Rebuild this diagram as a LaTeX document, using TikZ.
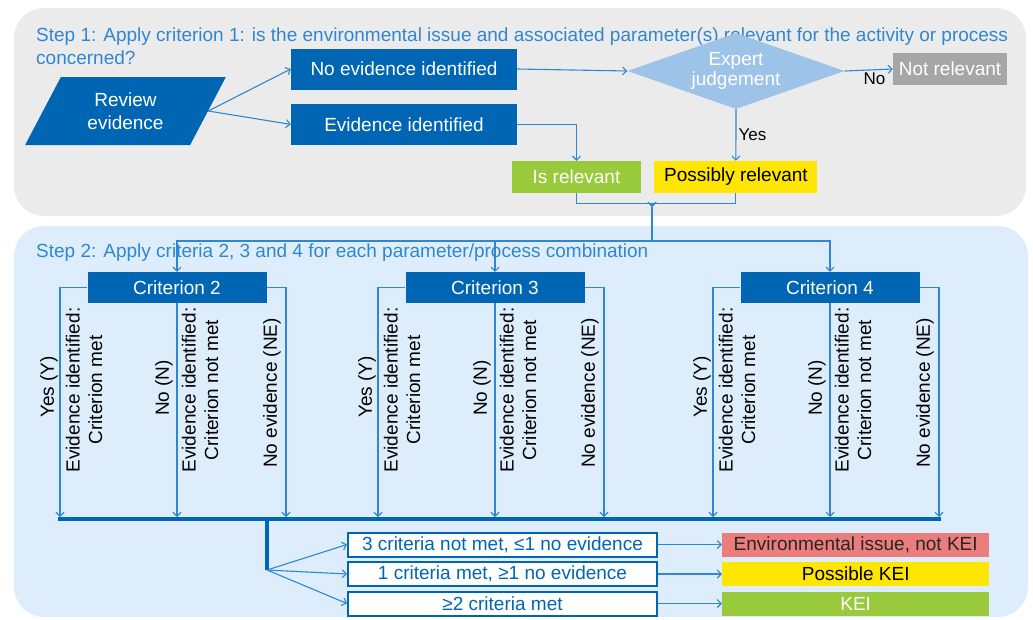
\documentclass[tikz,border=0pt]{standalone}
\usepackage{fontspec}
\setmainfont{Liberation Sans}
\usetikzlibrary{arrows.meta,positioning,shapes.geometric}

\definecolor{boxblue}{RGB}{0,102,179}
\definecolor{lineblue}{RGB}{48,135,208}
\definecolor{panelgrey}{RGB}{235,235,235}
\definecolor{panelblue}{RGB}{222,237,252}
\definecolor{judgeblue}{RGB}{157,195,232}
\definecolor{notgrey}{RGB}{166,166,166}
\definecolor{relgreen}{RGB}{153,202,60}
\definecolor{posyellow}{RGB}{255,230,0}
\definecolor{keired}{RGB}{236,125,125}

\tikzset{
  darkbox/.style={fill=boxblue,text=white,inner sep=0pt},
  tagbox/.style={inner sep=0pt,minimum height=32pt},
  outbox/.style={draw=boxblue,line width=2pt,fill=white,text=boxblue,inner sep=0pt,
                 minimum width=309pt,minimum height=24pt},
  resbox/.style={inner sep=0pt,minimum width=267pt,minimum height=24pt},
  vlabel/.style={rotate=90,align=center,inner sep=0pt},
  link/.style={draw=lineblue,line width=1.1pt},
  busline/.style={draw=boxblue,line width=3.5pt},
  smalltext/.style={text=black,inner sep=2pt,font=\fontsize{17}{20}\selectfont}
}

\begin{document}
\begin{tikzpicture}[x=1pt,y=-1pt,>={Straight Barb[length=4pt,width=8pt]},
                    font=\fontsize{19}{22.5}\selectfont]
\useasboundingbox (0,0) rectangle (1033,619);

% panels
\fill[panelgrey,rounded corners=30pt] (14,8) rectangle (1026,216);
\fill[panelblue,rounded corners=30pt] (14,226) rectangle (1028,617);

% step 1
\node[anchor=north west,align=left,text=lineblue,inner sep=0pt] (step1) at (36,28)
  {Step 1: Apply criterion 1: is the environmental issue and associated parameter(s) relevant for the activity or process\\concerned?};

\node[trapezium,trapezium left angle=60,trapezium right angle=120,trapezium stretches=true,
      minimum width=201pt,minimum height=68pt,fill=boxblue,text=white,align=center,
      inner sep=0pt] (review) at (125.5,111) {Review\\evidence};

\node[darkbox,minimum width=226pt,minimum height=41pt] (noevid) at (404,69) {No evidence identified};
\node[darkbox,minimum width=226pt,minimum height=41pt,below=14pt of noevid] (evid) {Evidence identified};

\node[diamond,aspect=2.86,fill=judgeblue,text=white,inner sep=0pt,minimum width=217pt,
      minimum height=76pt,align=center,font=\fontsize{19}{20}\selectfont] (judge) at (736,71) {Expert\\judgement};

\node[tagbox,fill=notgrey,text=white,minimum width=114pt] (notrel) at (950,69) {Not relevant};
\node[tagbox,fill=relgreen,text=white,minimum width=129pt] (isrel) at (576.5,177) {Is relevant};
\node[tagbox,fill=posyellow,text=black,minimum width=163pt,right=13pt of isrel] (posrel) {Possibly relevant};

\draw[link,->] (review.east) -- (noevid.west);
\draw[link,->] (review.east) -- (evid.west);
\draw[link,->] (noevid.east) -- (judge.west);
\draw[link,->] (judge.east) -- node[smalltext,below,pos=0.62] (nolabel) {No} (notrel.west);
\draw[link,->] (judge.south) -- node[smalltext,right,pos=0.5] (yeslabel) {Yes} (posrel.north);
\draw[link,->] (evid.east) -| (isrel.north);

% merge into step 2
\coordinate (merge) at (652,207);
\coordinate (split) at (652,241);
\draw[link,->] (isrel.south) -- ++(0,10) -| (merge);
\draw[link,->] (posrel.south) -- ++(0,10) -| (merge);
\draw[link] (merge) -- (split);

% step 2
\node[anchor=west,text=lineblue,inner sep=0pt] (step2) at (36,253)
  {Step 2: Apply criteria 2, 3 and 4 for each parameter/process combination};

\foreach \n/\cx in {2/177,3/495,4/830}{
  \node[darkbox,minimum width=179pt,minimum height=31pt] (crit\n) at (\cx,287.5) {Criterion \n};
  \coordinate (yes\n) at (\cx-117,517);
  \coordinate (no\n)  at (\cx,517);
  \coordinate (ne\n)  at (\cx+109,517);
  \draw[link,->] (crit\n.west) -| (yes\n);
  \draw[link,->] (crit\n.south) -- (no\n);
  \draw[link,->] (crit\n.east) -| (ne\n);
  \node[vlabel] (yeslab\n) at (\cx-128,387) {Yes (Y)};
  \node[vlabel] (metlab\n) at (\cx-93,390) {Evidence identified:\\Criterion met};
  \node[vlabel] (nolab\n)  at (\cx-13,388) {No (N)};
  \node[vlabel] (notmet\n) at (\cx+23,390) {Evidence identified:\\Criterion not met};
  \node[vlabel] (nelab\n)  at (\cx+95,393) {No evidence (NE)};
}

\draw[link,->] (split) -| (crit2.north);
\draw[link,->] (split) -| (crit4.north);
\draw[link,->] (split -| crit3.north) -- (crit3.north);

% outcome
\coordinate (busL) at (58,519);
\coordinate (busR) at (941,519);
\coordinate (fanTop) at (267,519);
\coordinate (fan) at (267,570);
\draw[busline] (busL) -- (busR);
\draw[busline] (fanTop) -- (fan);

\node[outbox] (out1) at (502.5,544.5) {3 criteria not met, ≤1 no evidence};
\node[outbox,below=3.5pt of out1] (out2) {1 criteria met, ≥1 no evidence};
\node[outbox,below=3.5pt of out2] (out3) {≥2 criteria met};

\node[resbox,fill=keired,text=black!85,right=64pt of out1] (res1) {Environmental issue, not KEI};
\node[resbox,fill=posyellow,text=black,right=64pt of out2] (res2) {Possible KEI};
\node[resbox,fill=relgreen,text=white,right=64pt of out3] (res3) {KEI};

\foreach \k in {1,2,3}{
  \draw[link,->] (fan) -- (out\k.west);
  \draw[link,->] (out\k.east) -- (res\k.west);
}
\end{tikzpicture}
\end{document}
